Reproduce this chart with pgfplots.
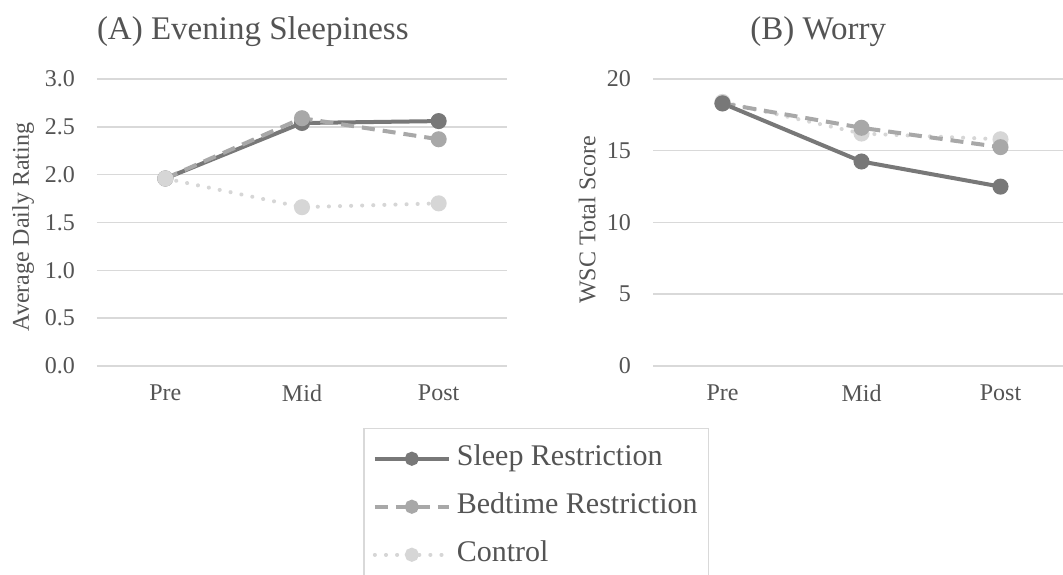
\documentclass[border=0pt]{standalone}
\usepackage{pgfplots}
\pgfplotsset{compat=1.18}
\usepackage{fontspec}
\setmainfont{Liberation Serif}
\definecolor{sr}{gray}{0.47}
\definecolor{br}{gray}{0.66}
\definecolor{ct}{gray}{0.84}
\definecolor{txt}{gray}{0.33}
\definecolor{grd}{gray}{0.85}
\pgfplotsset{
  common/.style={
    scale only axis,
    xmin=0, xmax=3,
    xtick={0.5,1.5,2.5},
    xticklabels={Pre,Mid,Post},
    axis line style={draw=none},
    major tick length=0pt,
    ymajorgrids,
    grid style={grd, line width=1.5pt},
    clip=false,
    /pgf/number format/assume math mode=true,
    tick label style={font=\fontsize{24}{24}\selectfont, text=txt},
    xticklabel style={anchor=north, inner sep=0pt, yshift=-19pt},
    yticklabel style={anchor=east, inner sep=0pt, xshift=-22pt},
    label style={font=\fontsize{24}{24}\selectfont, text=txt},
  },
  srs/.style={sr, line width=4pt, mark=*, mark size=6pt, mark options={solid, fill=sr, draw=sr}},
  brs/.style={br, line width=4pt, dash pattern=on 13pt off 8pt, mark=*, mark size=6pt, mark options={solid, fill=br, draw=br}},
  cts/.style={ct, line width=4pt, line cap=round, dash pattern=on 0.1pt off 11pt, mark=*, mark size=6pt, mark options={solid, fill=ct, draw=ct}},
}
\begin{document}
\begin{tikzpicture}[x=1pt,y=1pt]
\path[use as bounding box, fill=white] (0,0) rectangle (1063,575);
\begin{axis}[common,
  at={(97pt,209pt)}, anchor=south west,
  width=410pt, height=287pt,
  ymin=0, ymax=3, ytick={0,0.5,...,3},
  yticklabel style={/pgf/number format/.cd, fixed, fixed zerofill, precision=1},
  ylabel={Average Daily Rating},
  ylabel style={at={(axis description cs:-0.180,0.484)}, anchor=center, rotate=0},
  legend style={at={(axis description cs:0.649,-0.216)}, anchor=north west,
    draw=grd, line width=1.5pt, fill=white,
    font=\fontsize{30}{30}\selectfont, text=txt,
    inner xsep=9pt, inner ysep=14pt,
    row sep=16pt,
    nodes={text height=21pt, text depth=7pt, inner sep=2pt},
    /tikz/every odd column/.append style={column sep=4pt}},
  legend cell align=left,
  legend image code/.code={\draw[mark repeat=2,mark phase=2,mark size=5pt,#1] plot coordinates {(0pt,0pt) (37pt,0pt) (74pt,0pt)};},
]
\addplot[srs] coordinates {(0.5,1.96) (1.5,2.54) (2.5,2.56)};
\addlegendentry{Sleep Restriction}
\addplot[brs] coordinates {(0.5,1.96) (1.5,2.59) (2.5,2.37)};
\addlegendentry{Bedtime Restriction}
\addplot[cts] coordinates {(0.5,1.96) (1.5,1.66) (2.5,1.70)};
\addlegendentry{Control}
\node[font=\fontsize{33}{33}\selectfont, text=txt] at (rel axis cs:0.380,1.164) {(A) Evening Sleepiness};
\end{axis}
\begin{axis}[common,
  at={(653pt,209pt)}, anchor=south west,
  width=417pt, height=287pt,
  ymin=0, ymax=20, ytick={0,5,...,20},
  ylabel={WSC Total Score},
  ylabel style={at={(axis description cs:-0.158,0.509)}, anchor=center, rotate=0},
]
\addplot[cts] coordinates {(0.5,18.4) (1.5,16.2) (2.5,15.8)};
\addplot[brs] coordinates {(0.5,18.3) (1.5,16.6) (2.5,15.25)};
\addplot[srs] coordinates {(0.5,18.3) (1.5,14.25) (2.5,12.5)};
\node[font=\fontsize{33}{33}\selectfont, text=txt] at (rel axis cs:0.396,1.164) {(B) Worry};
\end{axis}
\end{tikzpicture}
\end{document}
